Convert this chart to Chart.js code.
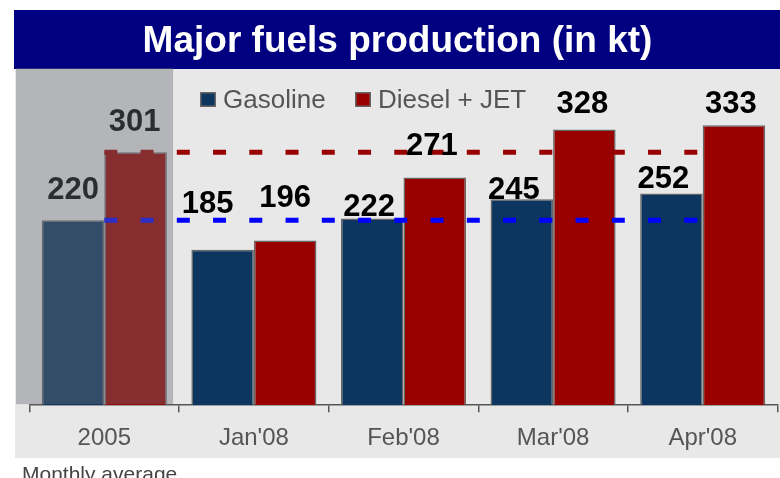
<!DOCTYPE html>
<html>
<head>
<meta charset="utf-8">
<title>Major fuels production</title>
<script src="https://cdn.jsdelivr.net/npm/chart.js@4/dist/chart.umd.min.js"></script>
<style>
  html, body { margin: 0; padding: 0; background: #fff; }
  #wrap { width: 780px; height: 478px; }
</style>
</head>
<body>
<div id="wrap"><canvas id="fuels" width="780" height="478"></canvas></div>
<script>
(function () {
  "use strict";

  const categories = ["2005", "Jan'08", "Feb'08", "Mar'08", "Apr'08"];
  const gasoline = [220, 185, 222, 245, 252];
  const dieselJet = [301, 196, 271, 328, 333];
  const gasolineAvg2005 = [220, 220, 220, 220, 220];
  const dieselAvg2005 = [301, 301, 301, 301, 301];
  const seriesNames = ["Gasoline", "Diesel + JET"];
  const titleText = "Major fuels production (in kt)";
  const footnote = "Monthly average";

  // hand nudges for the value labels (px), the slide had them placed by hand
  const labelLift = [[21, 37, 3, 0, 5], [21, 33, 22, 17, 12]];
  const labelShift = [[0, -15, -3, -8, -8], [-1, 0, -3, -2, -3]];

  const FONT = "'Liberation Sans', Arial, Helvetica, sans-serif";
  const NAVY = "#0c3560";
  const RED = "#990000";

  const backdrop = {
    id: "backdrop",
    beforeDraw(chart) {
      const ctx = chart.ctx;
      ctx.save();
      ctx.fillStyle = "#ffffff";
      ctx.fillRect(0, 0, chart.width, chart.height);
      ctx.fillStyle = "#e8e8e8";
      ctx.fillRect(15, 69, chart.width - 15, 389);
      ctx.fillStyle = "#000080";
      ctx.fillRect(14, 10, chart.width - 14, 59);
      ctx.fillStyle = "#ffffff";
      ctx.font = "bold 37px " + FONT;
      ctx.textAlign = "center";
      ctx.textBaseline = "alphabetic";
      ctx.fillText(titleText, 397.5, 52);
      ctx.restore();
    }
  };

  const valueLabels = {
    id: "valueLabels",
    afterDatasetsDraw(chart) {
      const ctx = chart.ctx;
      ctx.save();
      ctx.font = "bold 31px " + FONT;
      ctx.fillStyle = "#000";
      ctx.textAlign = "center";
      ctx.textBaseline = "alphabetic";
      [0, 1].forEach(function (di) {
        const meta = chart.getDatasetMeta(di);
        meta.data.forEach(function (bar, i) {
          const v = chart.data.datasets[di].data[i];
          ctx.fillText(String(v), bar.x + labelShift[di][i], bar.y - labelLift[di][i]);
        });
      });
      ctx.restore();
    }
  };

  const legendBox = {
    id: "legendBox",
    afterDraw(chart) {
      const ctx = chart.ctx;
      const starts = [200, 355];
      ctx.save();
      ctx.font = "26px " + FONT;
      ctx.textBaseline = "alphabetic";
      [0, 1].forEach(function (di) {
        const ds = chart.data.datasets[di];
        ctx.fillStyle = ds.backgroundColor;
        ctx.fillRect(starts[di], 92, 16, 15);
        ctx.strokeStyle = "#666";
        ctx.lineWidth = 1.5;
        ctx.strokeRect(starts[di] + 0.75, 92.75, 14.5, 13.5);
        ctx.fillStyle = "#555";
        ctx.fillText(ds.label, starts[di] + 23, 108);
      });
      ctx.restore();
    }
  };

  const shade2005 = {
    id: "shade2005",
    afterDraw(chart) {
      const ctx = chart.ctx;
      const xs = chart.scales.x;
      const area = chart.chartArea;
      const step = xs.width / categories.length;
      const right = xs.getPixelForValue(0) + step * 0.46;
      ctx.save();
      ctx.fillStyle = "rgba(108,109,116,0.41)";
      ctx.fillRect(16, area.top - 1, right - 16, area.bottom - area.top);
      ctx.fillStyle = "#444";
      ctx.font = "21px " + FONT;
      ctx.textAlign = "left";
      ctx.fillText(footnote, 22, 481);
      ctx.restore();
    }
  };

  new Chart(document.getElementById("fuels"), {
    data: {
      labels: categories,
      datasets: [
        { type: "bar", label: seriesNames[0], data: gasoline, backgroundColor: NAVY, borderColor: "#666", borderWidth: 1.5, order: 2, categoryPercentage: 0.836, barPercentage: 1 },
        { type: "bar", label: seriesNames[1], data: dieselJet, backgroundColor: RED, borderColor: "#666", borderWidth: 1.5, order: 2, categoryPercentage: 0.836, barPercentage: 1 },
        { type: "line", label: "Gasoline 2005", data: gasolineAvg2005, borderColor: "#0000ff", borderWidth: 5, borderDash: [13, 23.25], pointRadius: 0, fill: false, order: 1 },
        { type: "line", label: "Diesel 2005", data: dieselAvg2005, borderColor: RED, borderWidth: 5, borderDash: [13, 23.25], pointRadius: 0, fill: false, order: 1 }
      ]
    },
    options: {
      responsive: false,
      devicePixelRatio: 1,
      animation: false,
      layout: { padding: { top: 69, left: 29.5, right: 2.5, bottom: 13 } },
      plugins: { legend: { display: false }, tooltip: { enabled: false }, title: { display: false } },
      scales: {
        x: {
          offset: true,
          grid: { display: true, offset: true, drawOnChartArea: false, drawTicks: true, tickLength: 7, color: "#555", lineWidth: 1.5 },
          border: { display: true, color: "#555", width: 1.5 },
          ticks: { color: "#555", font: { family: FONT, size: 24 }, padding: 12, maxRotation: 0 }
        },
        y: { display: false, min: 0, max: 400 }
      }
    },
    plugins: [backdrop, valueLabels, legendBox, shade2005]
  });
})();
</script>
</body>
</html>
